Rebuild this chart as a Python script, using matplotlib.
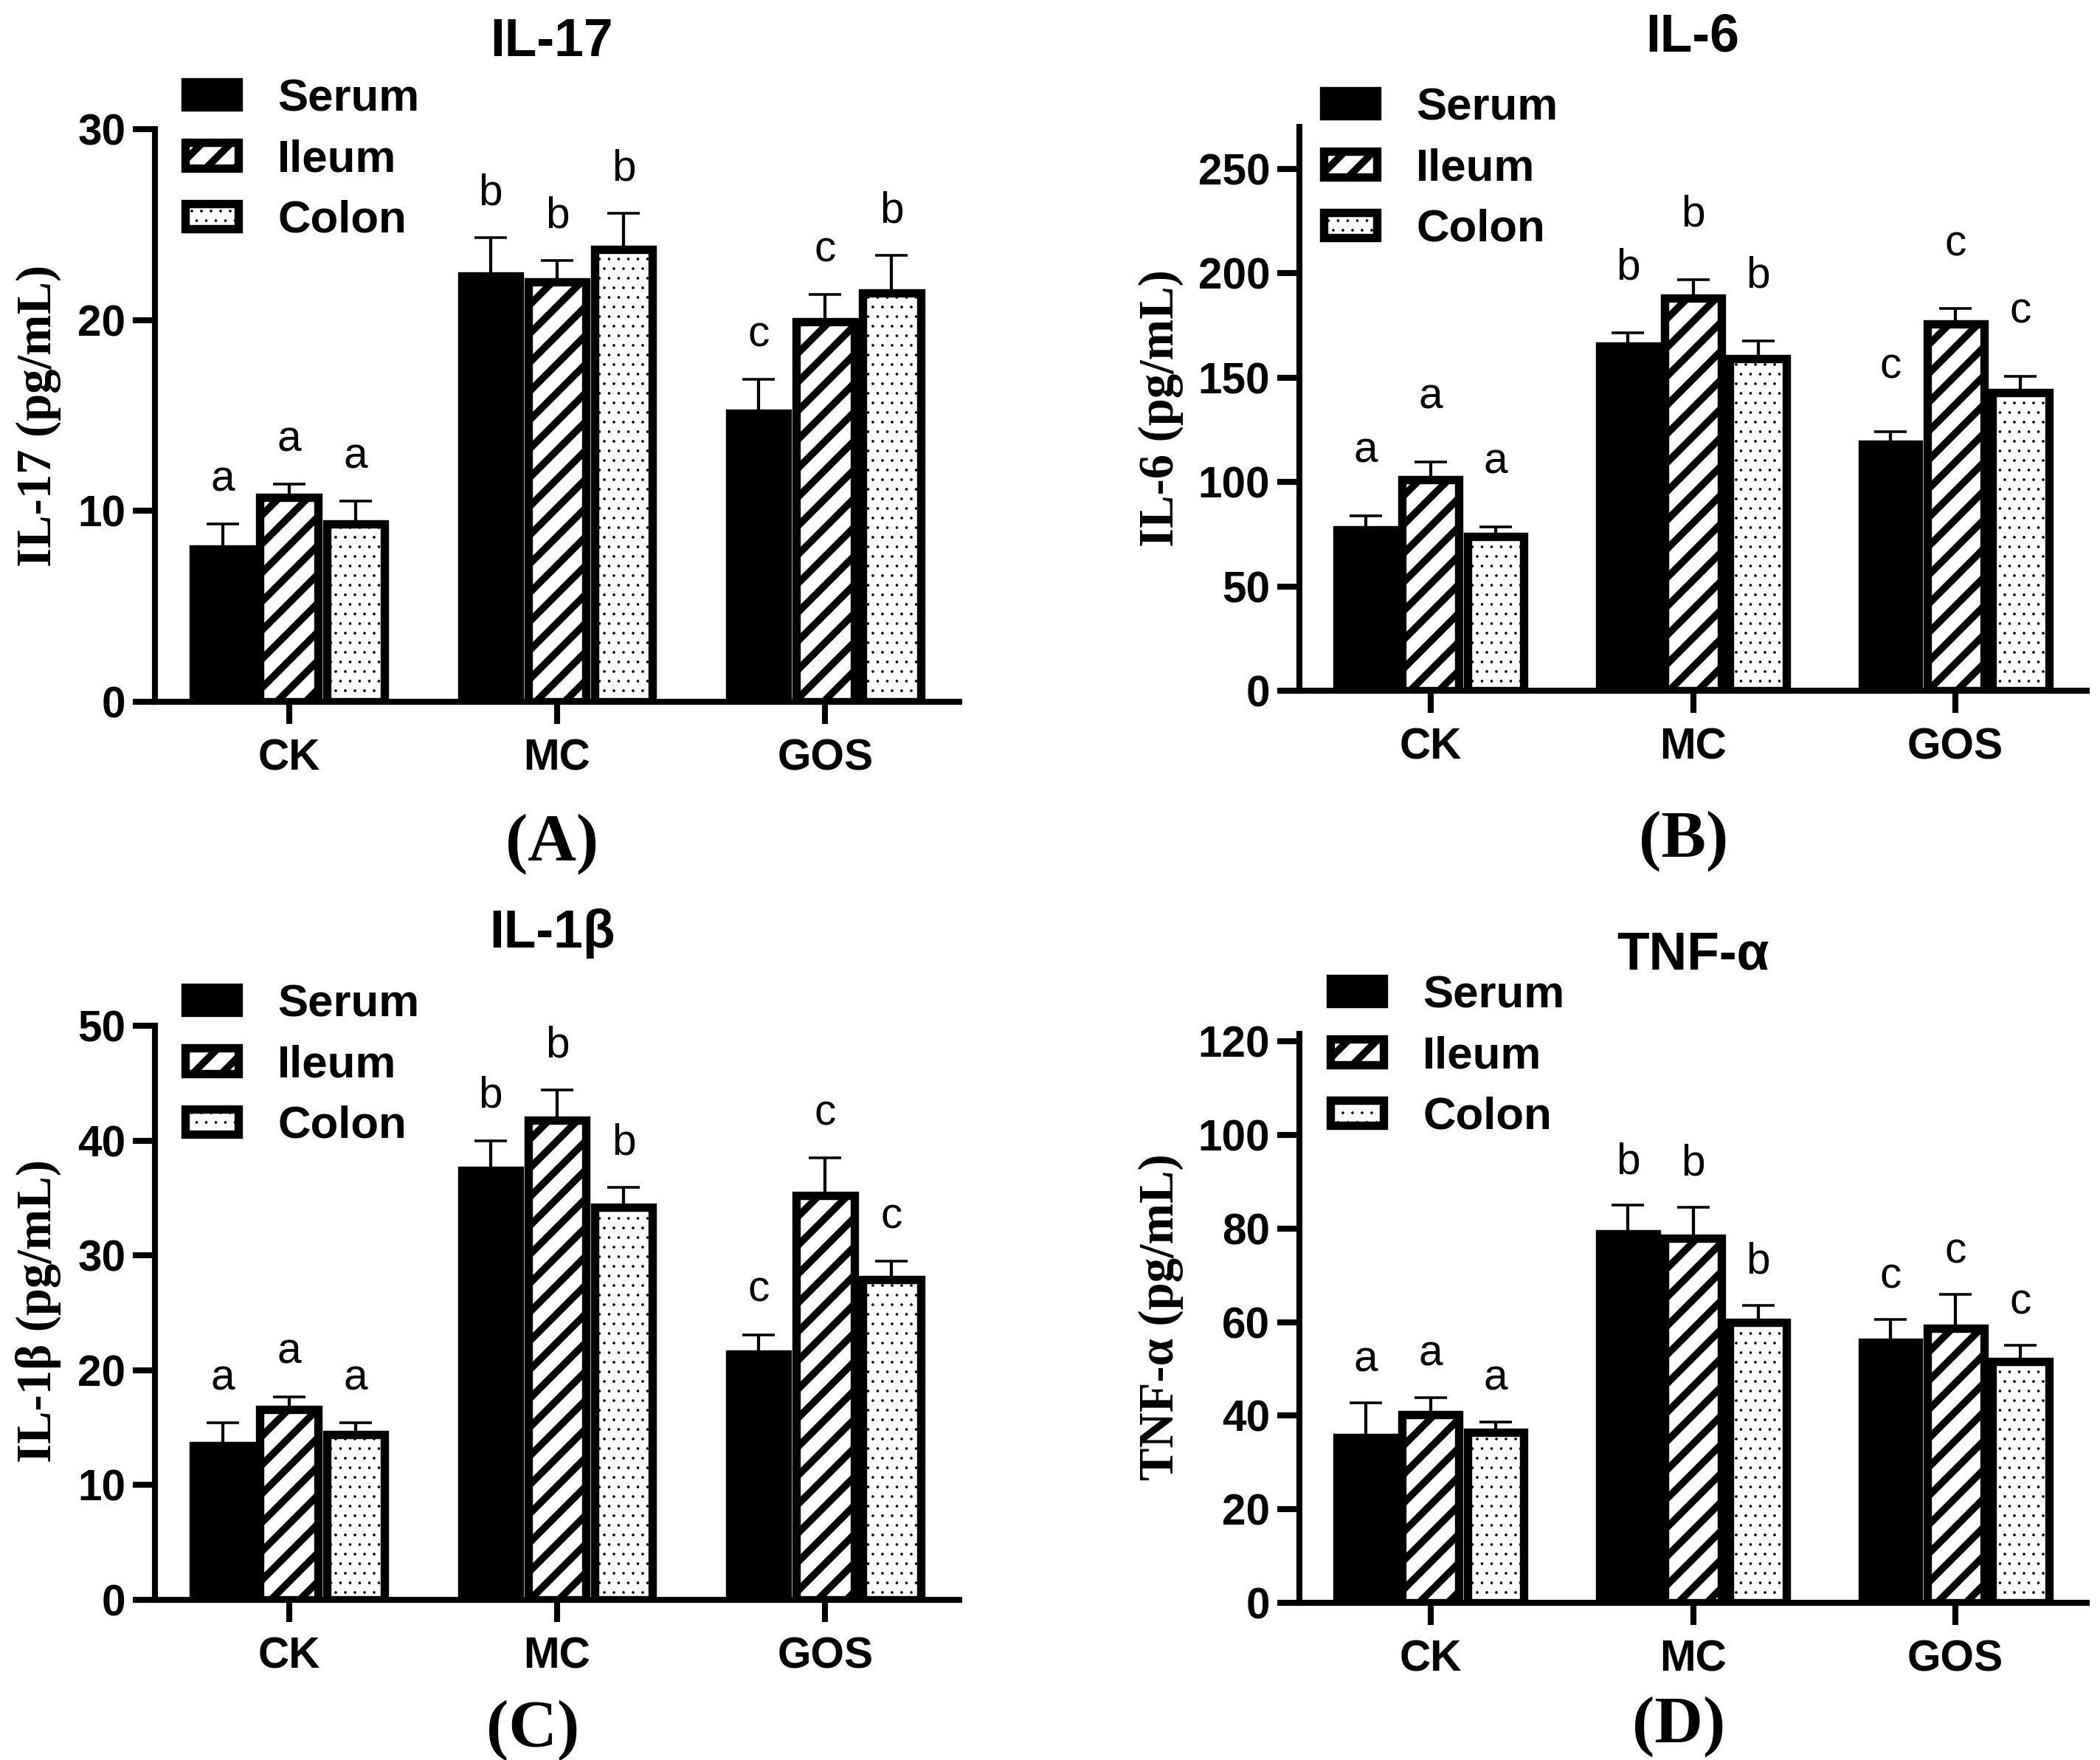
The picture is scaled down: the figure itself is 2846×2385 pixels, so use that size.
import numpy as np
import matplotlib
matplotlib.use('Agg')
import matplotlib.pyplot as plt

plt.rcParams['font.family'] = 'Liberation Sans'
plt.rcParams['hatch.linewidth'] = 3.0

W, H = 2846, 2385
DPI = 234

groups = ['CK', 'MC', 'GOS']
series = ['Serum', 'Ileum', 'Colon']

# IL-17
il17_serum = [8.0, 22.3, 15.1]
il17_serum_sd = [1.3, 2.0, 1.8]
il17_ileum = [10.7, 22.0, 19.9]
il17_ileum_sd = [0.7, 1.1, 1.45]
il17_colon = [9.3, 23.7, 21.4]
il17_colon_sd = [1.2, 1.9, 2.0]
il17_letters = [['a', 'b', 'c'], ['a', 'b', 'c'], ['a', 'b', 'b']]

# IL-6
il6_serum = [77, 165, 118]
il6_serum_sd = [6.8, 6.4, 6.2]
il6_ileum = [101, 188, 175.6]
il6_ileum_sd = [8.7, 8.9, 7.3]
il6_colon = [74, 159, 142.8]
il6_colon_sd = [4.4, 8.6, 7.8]
il6_letters = [['a', 'b', 'c'], ['a', 'b', 'c'], ['a', 'b', 'c']]

# IL-1beta
il1b_serum = [13.4, 37.4, 21.4]
il1b_serum_sd = [2.0, 2.6, 1.7]
il1b_ileum = [16.6, 41.8, 35.2]
il1b_ileum_sd = [1.1, 2.6, 3.3]
il1b_colon = [14.4, 34.2, 27.9]
il1b_colon_sd = [1.0, 1.7, 1.6]
il1b_letters = [['a', 'b', 'c'], ['a', 'b', 'c'], ['a', 'b', 'c']]

# TNF-alpha
tnf_serum = [35.4, 78.9, 55.6]
tnf_serum_sd = [7.3, 6.1, 4.9]
tnf_ileum = [40.2, 77.9, 58.7]
tnf_ileum_sd = [3.7, 6.7, 7.2]
tnf_colon = [36.4, 59.9, 51.5]
tnf_colon_sd = [2.3, 3.7, 3.5]
tnf_letters = [['a', 'b', 'c'], ['a', 'b', 'c'], ['a', 'b', 'c']]


def fx(x):
    return x / W


def fy(y):
    return 1 - y / H


fig = plt.figure(figsize=(W / DPI, H / DPI), dpi=DPI)

faces = ['black', 'white', 'white']
hatches = [None, '//', '...']
hatch_lw = [3.0, 3.0, 0.3]
offs = [-0.248, 0.0, 0.248]


def panel(rect, means, sds, letters, ylim, yticks, title, ylabel, tag,
          title_xy, ylab_xy, tag_xy, leg_xy, letter_off):
    left, right, top, bottom = rect
    ax = fig.add_axes([fx(left), fy(bottom), (right - left) / W, (bottom - top) / H])
    x = np.arange(len(groups))
    for i, s in enumerate(series):
        with plt.rc_context({'hatch.linewidth': hatch_lw[i]}):
            bars = ax.bar(x + offs[i], means[i], width=0.216, color=faces[i],
                          edgecolor='black', linewidth=3.5, hatch=hatches[i],
                          label=s, zorder=2)
        for b in bars:
            if hasattr(b, 'set_hatch_linewidth'):
                b.set_hatch_linewidth(hatch_lw[i])
        ax.errorbar(x + offs[i], means[i], yerr=[np.zeros(3), sds[i]], fmt='none',
                    ecolor='black', elinewidth=1.3, capsize=6.8, capthick=1.1, zorder=1)
        for j in range(3):
            ax.annotate(letters[i][j], (x[j] + offs[i], means[i][j] + sds[i][j]),
                        xytext=(0, letter_off), textcoords='offset points',
                        ha='center', va='center', fontsize=18)
    ax.set_xlim(-0.5, 2.5)
    ax.set_ylim(*ylim)
    ax.set_yticks(yticks)
    ax.set_xticks(x, groups)
    for sp in ['top', 'right']:
        ax.spines[sp].set_visible(False)
    for sp in ['left', 'bottom']:
        ax.spines[sp].set_linewidth(2.5)
    ax.tick_params(axis='both', width=2.5, length=9.2, labelsize=18)
    ax.tick_params(axis='y', pad=3)
    ax.tick_params(axis='x', pad=6)
    for lab in ax.get_xticklabels() + ax.get_yticklabels():
        lab.set_fontweight('bold')

    leg = ax.legend(loc='center left', bbox_to_anchor=(fx(leg_xy[0]), fy(leg_xy[1])),
                    bbox_transform=fig.transFigure, frameon=False, borderpad=0,
                    borderaxespad=0, handlelength=1.158, handleheight=0.478,
                    handletextpad=0.87, labelspacing=0.41,
                    prop={'weight': 'bold', 'size': 19})
    for i, hnd in enumerate(leg.legend_handles):
        if hasattr(hnd, 'set_hatch_linewidth'):
            hnd.set_hatch_linewidth(hatch_lw[i])

    fig.text(fx(title_xy[0]), fy(title_xy[1]), title, ha='center', va='center',
             fontsize=22, fontweight='bold')
    fig.text(fx(ylab_xy[0]), fy(ylab_xy[1]), ylabel, ha='center', va='center',
             rotation=90, family='Liberation Serif', fontweight='bold', fontsize=20.5)
    fig.text(fx(tag_xy[0]), fy(tag_xy[1]), tag, ha='center', va='center',
             family='Liberation Serif', fontweight='bold', fontsize=28)
    return ax


panel((210, 1300, 175, 951),
      [il17_serum, il17_ileum, il17_colon],
      [il17_serum_sd, il17_ileum_sd, il17_colon_sd],
      il17_letters, (0, 30), [0, 10, 20, 30], 'IL-17', 'IL-17 (pg/mL)', '(A)',
      (748, 57), (52, 563), (748, 1144), (251, 217), 18.5)

panel((1761, 2828, 172, 936),
      [il6_serum, il6_ileum, il6_colon],
      [il6_serum_sd, il6_ileum_sd, il6_colon_sd],
      il6_letters, (0, 270), [0, 50, 100, 150, 200, 250], 'IL-6', 'IL-6 (pg/mL)', '(B)',
      (2294, 50), (1573, 553), (2282, 1140), (1794, 229), 27)

panel((210, 1300, 1390, 2168),
      [il1b_serum, il1b_ileum, il1b_colon],
      [il1b_serum_sd, il1b_ileum_sd, il1b_colon_sd],
      il1b_letters, (0, 50), [0, 10, 20, 30, 40, 50], 'IL-1β', 'IL-1β (pg/mL)', '(C)',
      (748, 1265), (52, 1777), (722, 2345), (251, 1444), 18.5)

panel((1761, 2828, 1401, 2172),
      [tnf_serum, tnf_ileum, tnf_colon],
      [tnf_serum_sd, tnf_ileum_sd, tnf_colon_sd],
      tnf_letters, (0, 121.6), [0, 20, 40, 60, 80, 100, 120], 'TNF-α', 'TNF-α (pg/mL)', '(D)',
      (2294, 1294), (1573, 1785), (2275, 2340), (1803, 1432), 18)

fig.savefig('out.png', dpi=DPI)
